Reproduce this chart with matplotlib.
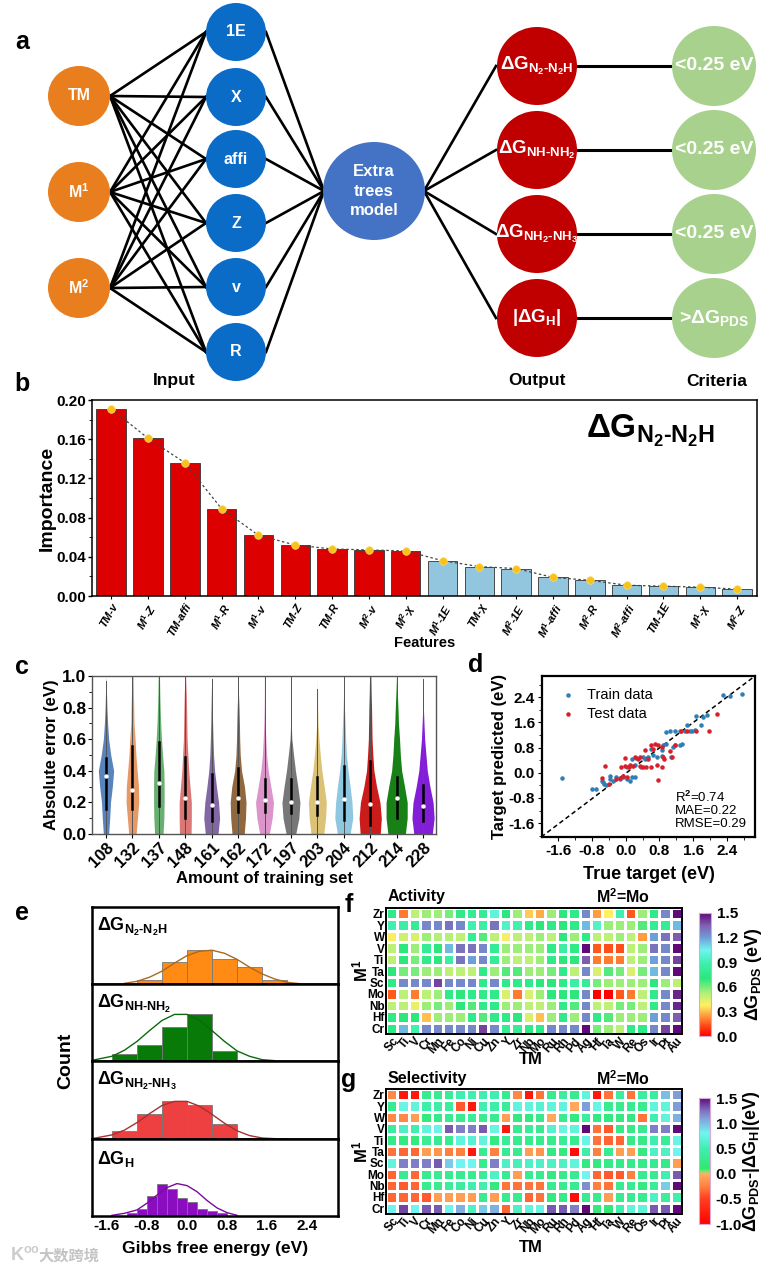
import matplotlib
matplotlib.use("Agg")
import matplotlib.pyplot as plt
import numpy as np
from matplotlib.colors import LinearSegmentedColormap, Normalize
from matplotlib.patches import Ellipse
from matplotlib.ticker import AutoMinorLocator

plt.rcParams['font.family'] = ['Liberation Sans', 'DejaVu Sans']
plt.rcParams['font.weight'] = 'bold'
plt.rcParams['axes.labelweight'] = 'bold'
plt.rcParams['mathtext.fontset'] = 'custom'
plt.rcParams['mathtext.rm'] = 'Liberation Sans:bold'
plt.rcParams['mathtext.it'] = 'Liberation Sans:bold'
plt.rcParams['mathtext.bf'] = 'Liberation Sans:bold'
plt.rcParams['mathtext.default'] = 'rm'

W, H = 769, 1271

# panel a
input_nodes = ['TM', 'M$^{1}$', 'M$^{2}$']
feature_nodes = ['1E', 'X', 'affi', 'Z', 'v', 'R']
output_nodes = ['ΔG$_{N_{2}\\text{-}N_{2}H}$', 'ΔG$_{NH\\text{-}NH_{2}}$',
                'ΔG$_{NH_{2}\\text{-}NH_{3}}$', '|ΔG$_{H}$|']
criteria_nodes = ['<0.25 eV', '<0.25 eV', '<0.25 eV', '>ΔG$_{PDS}$']

# panel b
feature_names = ['TM-v', 'M$^{1}$-Z', 'TM-affi', 'M$^{1}$-R', 'M$^{1}$-v', 'TM-Z', 'TM-R', 'M$^{2}$-v',
                 'M$^{2}$-χ', 'M$^{1}$-1E', 'TM-χ', 'M$^{2}$-1E', 'M$^{1}$-affi', 'M$^{2}$-R',
                 'M$^{2}$-affi', 'TM-1E', 'M$^{1}$-χ', 'M$^{2}$-Z']
importance = [.191, .161, .136, .089, .062, .052, .048, .047, .046,
              .036, .030, .028, .019, .016, .011, .010, .009, .007]
n_red = 9

# panel c
train_sizes = ['108', '132', '137', '148', '161', '162', '172', '197', '203', '204', '212', '214', '228']
violin_levels = [0, .1, .2, .3, .4, .5, .6, .7, .8, .9, 1.0]
violin_widths = [
    [.10, .14, .17, .24, .29, .18, .10, .06, .035, .018, 0],
    [.14, .19, .24, .23, .18, .13, .10, .06, .05, .035, .025],
    [.16, .19, .20, .20, .19, .14, .10, .07, .05, .035, .025],
    [.22, .23, .23, .18, .13, .10, .07, .06, .05, .035, .012],
    [.24, .30, .26, .18, .11, .07, .05, .035, .025, .012, 0],
    [.23, .28, .30, .24, .13, .08, .06, .05, .035, .012, .006],
    [.18, .29, .34, .24, .14, .08, .05, .025, .012, .006, .006],
    [.18, .30, .34, .26, .17, .10, .035, .012, .006, .006, .006],
    [.24, .31, .34, .26, .17, .11, .06, .025, .012, .006, 0],
    [.24, .34, .31, .24, .16, .10, .07, .05, .025, .006, .006],
    [.38, .42, .37, .24, .14, .10, .07, .06, .05, .035, .025],
    [.33, .40, .40, .30, .19, .14, .11, .07, .05, .025, .006],
    [.35, .42, .38, .26, .16, .11, .06, .035, .012, .006, 0],
]
violin_medians = [.37, .28, .32, .225, .185, .23, .215, .205, .20, .22, .19, .23, .18]
violin_q1 = [.16, .16, .18, .10, .08, .14, .14, .13, .12, .09, .06, .10, .08]
violin_q3 = [.48, .56, .58, .49, .38, .42, .35, .35, .36, .43, .46, .36, .31]
violin_top = [.97, 1, 1, 1, .98, 1, 1, 1, .92, 1, 1, 1, .98]
violin_colors = ['#4f7cb8', '#e5935f', '#62ab6a', '#d97070', '#7b5f9e', '#8a6036', '#d98fc8',
                 '#707070', '#d9bf70', '#88c4de', '#c90f0f', '#0a7a0a', '#7b12d6']

# panel d
train_x = [-1.50, -.79, -.71, -.57, -.52, -.46, -.36, -.30, -.22, -.14, -.06, .02, .10, .14, .21, .02, .14, .25,
           .21, .37, .45, .53, .61, .73, .85, .89, .96, 1.12, .85, 1.08, 1.16, .95, 1.04, 1.16, 1.28, 1.40, 1.52,
           1.63, 1.34, 1.28, 1.44, 1.56, 1.66, 1.78, 1.83, 1.93, 2.31, 2.48, 2.75, -.38, -.53, .41, .65]
train_y = [-.17, -.52, -.52, -.27, -.35, -.40, -.19, -.25, -.12, -.19, -.14, -.19, -.25, -.14, -.12, .18, .44, .47,
           .23, .18, .44, .50, .76, .50, .71, .87, .90, .81, .52, .50, .87, 1.29, 1.31, 1.31, 1.31, 1.34, 1.34,
           1.36, .92, .87, 1.50, 1.34, 1.79, 1.53, 1.77, 1.82, 2.47, 2.45, 2.50, -.09, -.30, .50, .55]
test_x = [-.57, -.48, -.39, -.22, -.14, -.06, -.01, -.12, -.02, .08, .18, .33, .41, .49, .21, .33, .45, .61, .73,
          .77, .85, .90, .61, .69, .77, .85, .89, 1.04, 1.09, 1.16, 1.32, 1.45, 1.66, 1.96, 2.15, .02, .10, .29,
          .65, .53]
test_y = [-.16, .20, -.35, -.19, -.16, -.09, .46, .18, .20, .18, .20, .20, .18, .18, .50, .50, .71, .18, .23,
          -.22, .18, .44, .87, .92, .89, .81, .50, .69, .50, .87, 1.31, 1.31, 1.31, 1.34, 1.85, -.14, .23, .44,
          .76, .44]

# panel e
hist_titles = ['ΔG$_{N_{2}\\text{-}N_{2}H}$', 'ΔG$_{NH\\text{-}NH_{2}}$', 'ΔG$_{NH_{2}\\text{-}NH_{3}}$', 'ΔG$_{H}$']
hist_edges = [
    [-1, -.5, 0, .5, 1, 1.5, 2],
    [-1.5, -1, -.5, 0, .5, 1],
    [-1.5, -1, -.5, 0, .5, 1, 1.5, 2],
    [-1.2, -1, -.8, -.6, -.4, -.2, 0, .2, .4, .6, .8],
]
hist_counts = [
    [12, 65, 100, 75, 50, 12],
    [22, 47, 102, 138, 30],
    [22, 72, 110, 100, 44, 4, 2],
    [8, 22, 58, 96, 80, 52, 40, 22, 14, 8],
]
curve_x = [
    [-1.25, -1, -.75, -.5, -.25, 0, .25, .5, .75, 1, 1.25, 1.5, 1.75, 2, 2.25],
    [-1.9, -1.5, -1.25, -1, -.75, -.5, -.25, 0, .25, .5, .75, 1, 1.25, 1.5, 1.75],
    [-1.9, -1.5, -1.25, -1, -.75, -.5, -.25, 0, .25, .5, .75, 1, 1.25, 1.5, 1.75],
    [-1.5, -1.25, -1, -.8, -.6, -.4, -.2, 0, .2, .4, .6, .8, 1],
]
curve_y = [
    [2, 8, 20, 38, 62, 84, 97, 100, 91, 73, 50, 30, 15, 5, 1],
    [2, 14, 32, 58, 90, 120, 138, 138, 120, 90, 58, 30, 14, 4, 1],
    [1, 12, 26, 48, 74, 98, 110, 110, 96, 72, 46, 24, 10, 3, 1],
    [2, 8, 18, 38, 62, 84, 96, 90, 72, 46, 24, 10, 2],
]
hist_colors = ['#ff8a14', '#087a08', '#ee4040', '#8a0ec0']
curve_colors = ['#a86a20', '#0c6a0c', '#a83030', '#7a0a9e']
gibbs_ticks = [-1.6, -.8, 0, .8, 1.6, 2.4]

# panels f, g
tm_names = ['Sc', 'Ti', 'V', 'Cr', 'Mn', 'Fe', 'Co', 'Ni', 'Cu', 'Zn', 'Y', 'Zr', 'Nb', 'Mo', 'Ru', 'Rh', 'Pd',
            'Ag', 'Hf', 'Ta', 'W', 'Re', 'Os', 'Ir', 'Pt', 'Au']
m1_names = ['Zr', 'Y', 'W', 'V', 'Ti', 'Ta', 'Sc', 'Mo', 'Nb', 'Hf', 'Cr']
activity = [
    [.75, .2, .5, .55, .55, .6, .75, .8, .8, 1.0, .7, .55, .32, .27, .55, .7, .75, 1.25, .25, .38, .9, .15, .55, .75, 1.25, 1.5],
    [.9, .85, .8, 1.25, 1.25, 1.3, 1.25, .9, .85, 1.3, .95, .9, .75, .7, .75, .7, .75, 1.15, .95, .55, .55, .55, .65, .8, .8, 1.15],
    [.37, .47, .45, .55, .52, .52, .5, .8, .65, .5, .4, .5, .5, .55, .5, .7, .55, .75, .5, .5, .55, .5, .25, 1.2, 1.3, 1.35],
    [.5, .7, .55, .8, .7, 1.15, 1.3, 1.3, 1.25, .8, .55, .55, .55, .55, .75, .85, .75, 1.5, .15, .13, .13, .5, .55, 1.3, 1.25, 1.5],
    [.5, .7, .6, .75, .7, .85, 1.3, 1.2, 1.25, .8, .55, .5, .5, .55, .75, .7, .7, 1.35, .2, .2, .2, .5, .55, 1.2, 1.25, 1.4],
    [.7, .6, .6, .55, .55, .5, .5, .5, .75, .55, .65, .65, .55, .55, .6, .75, .5, 1.25, .45, .65, .6, .45, .6, 1.15, 1.25, 1.5],
    [.75, 1.25, 1.25, 1.25, 1.4, 1.25, 1.25, 1.25, .75, 1.25, .75, .75, .75, .7, .7, .75, .85, .8, .6, .55, .55, .55, .55, .7, .55, .5],
    [.15, .5, .2, .5, .55, .75, .7, .75, .75, .75, .45, .2, .45, .55, .7, .7, .7, 1.25, 0, 0, .15, .2, .5, .75, 1.25, 1.45],
    [.5, .5, .42, .55, .6, .55, .7, .65, .75, .75, .55, .55, .5, .5, .55, .75, .65, 1.25, .5, .5, .6, .6, .5, .75, 1.25, 1.45],
    [.75, .7, .7, .3, .55, .55, .55, .75, .65, .75, .75, .7, .45, .3, .55, .75, .55, 1.25, .75, .65, .55, .55, .55, 1.2, 1.25, 1.35],
    [.75, 1.15, .9, 1.25, 1.25, 1.25, 1.25, 1.25, 1.4, 1.25, .8, .8, .75, .75, 1.25, 1.25, 1.25, 1.5, .6, .55, .5, .75, .75, 1.25, 1.4, 1.5],
]
selectivity = [
    [-.2, -.8, -.8, .3, .3, .35, .5, .5, .5, .5, .3, -.2, -.8, -.3, .3, .4, .3, .7, -.8, -.3, .4, -.3, .4, .4, 1.0, 1.1],
    [.3, .75, .7, .45, .45, .4, -.4, -.8, .5, .45, .35, .7, .7, .65, .7, .7, -.05, 1.1, .75, .3, .3, .3, .3, .7, .7, 1.1],
    [-.2, -.2, -.1, .2, .25, .3, .3, .35, .3, .3, -.1, .2, .2, .25, -.05, .3, .2, .4, .2, .2, .2, .2, -.3, .5, .7, 1.05],
    [.4, .6, .5, .7, .75, 1.3, 1.2, 1.2, 1.3, .75, -.8, .3, .35, .3, .65, .75, .7, 1.5, -.3, -.4, .25, .25, .3, 1.2, 1.2, 1.5],
    [.25, .2, .2, .35, .3, .3, .7, .65, .7, .2, .35, .3, .3, .3, .3, .35, .3, .75, -.3, -.35, -.35, .25, .25, .5, .35, .75],
    [-.3, -.35, -.35, -.1, -.15, -.25, -.25, -.8, .3, -.25, .3, .3, -.1, -.15, .2, .2, -.9, .45, -.25, .3, -.1, -.1, .2, .6, .6, .8],
    [.7, 1.2, 1.2, 1.2, 1.3, .95, .8, .8, .3, 1.2, .6, .55, .6, .6, .6, .6, .7, .2, .2, .25, .25, .25, .25, .3, .25, -.1],
    [-.35, .3, -.35, .3, .3, .3, .3, .3, .35, .6, .3, -.1, .3, .3, .2, .25, .3, .8, -.35, -.4, -.4, -.25, .3, .3, .5, 1.3],
    [-.35, -.4, -.35, .3, .3, .4, .4, .5, .5, .2, -.3, -.3, -.3, -.3, .3, .3, .3, 1.15, -.25, -.3, .3, .3, .2, .35, .95, 1.5],
    [-.35, -.35, -.35, -.4, -.1, -.1, -.1, -.1, .3, -.1, .3, .3, -.35, -.3, .2, .25, -.9, .3, .3, -.1, .3, .3, .3, .6, .4, .5],
    [.8, 1.35, .8, 1.3, 1.3, .8, 1.05, .6, .95, 1.05, -.35, .6, .7, .75, 1.3, 1.3, 1.2, 1.5, .2, .15, .5, .7, .7, 1.3, 1.3, 1.5],
]

fig = plt.figure(figsize=(W / 100, H / 100), dpi=100)


def px_axes(left, top, right, bottom):
    return fig.add_axes([left / W, 1 - bottom / H, (right - left) / W, (bottom - top) / H])


def set_frame(ax, lw):
    for s in ax.spines.values():
        s.set_linewidth(lw)


# whole figure overlay, pixel units, for the diagram and panel letters
bg = px_axes(0, 0, W, H)
bg.set_xlim(0, W)
bg.set_ylim(H, 0)
bg.axis('off')

in_y = [96, 192, 288]
feat_y = [32, 97, 159, 223, 287, 352]
out_y = [66, 150, 234, 318]
for y0 in in_y:
    for y1 in feat_y:
        bg.plot([110, 206], [y0, y1], color='k', lw=1.9, zorder=1)
for y1 in feat_y:
    bg.plot([266, 324], [y1, 191], color='k', lw=1.9, zorder=1)
for y1 in out_y:
    bg.plot([424, 496], [191, y1], color='k', lw=1.9, zorder=1)
    bg.plot([578, 672], [y1, y1], color='k', lw=2.2, zorder=1)


def node(x, y, rx, ry, color, label, size, spacing=1.2):
    bg.add_patch(Ellipse((x, y), 2 * rx, 2 * ry, fc=color, ec='none', zorder=2))
    bg.text(x, y, label, color='white', fontsize=size, ha='center', va='center', zorder=3, linespacing=spacing)


for y, lab in zip(in_y, input_nodes):
    node(79, y, 31, 30, '#e87e1e', lab, 11.5)
for y, lab in zip(feat_y, feature_nodes):
    node(236, y, 30, 29, '#0b6cc8', lab, 11.5)
node(374, 191, 51, 49, '#4472c4', 'Extra\ntrees\nmodel', 12, 1.4)
for y, lab in zip(out_y, output_nodes):
    node(537, y, 40, 39, '#c00000', lab, 13.5)
for y, lab in zip(out_y, criteria_nodes):
    node(714, y, 42, 40, '#a9d18e', lab, 14)
for x, lab in [(174, 'Input'), (537, 'Output'), (717, 'Criteria')]:
    bg.text(x, 381, lab, fontsize=12.5, ha='center', va='center')

for x, y, lab in [(22, 42, 'a'), (22, 384, 'b'), (22, 667, 'c'), (476, 665, 'd'),
                  (22, 913, 'e'), (349, 905, 'f'), (349, 1080, 'g')]:
    bg.text(x, y, lab, fontsize=18, ha='center', va='center')

# watermark
bg.text(10, 1255, 'K$^{oo}$', fontsize=13, color='#cccccc', va='center', ha='left')
bg.text(38, 1256, '大数跨境', fontsize=11, color='#c4c4c4', va='center', ha='left',
        family=['Noto Sans CJK SC', 'DejaVu Sans'])

# b
ax = px_axes(92, 400, 757, 596)
xb = np.arange(len(importance))
bar_cols = ['#dc0000'] * n_red + ['#92c5de'] * (len(importance) - n_red)
ax.bar(xb, importance, width=.8, color=bar_cols, edgecolor='#333333', linewidth=.6)
ax.plot(xb, importance, color='#444444', lw=.9, ls=(0, (2, 2)))
ax.plot(xb, importance, ls='none', marker='o', ms=5.5, color='#f9c11c', mec='#f7dd70', mew=.5)
ax.set_xlim(-.52, 17.54)
ax.set_ylim(0, .2)
ax.set_yticks([0, .04, .08, .12, .16, .2])
ax.set_yticklabels(['0.00', '0.04', '0.08', '0.12', '0.16', '0.20'], fontsize=11)
ax.yaxis.set_minor_locator(AutoMinorLocator(2))
ax.set_xticks(xb)
ax.set_xticklabels(feature_names, rotation=60, fontsize=8, style='italic', ha='right', rotation_mode='anchor')
ax.tick_params(axis='x', pad=2, length=2)
ax.tick_params(axis='y', length=3, width=1, pad=1)
ax.set_ylabel('Importance', fontsize=14, labelpad=1)
ax.set_xlabel('Features', fontsize=10.5, labelpad=-3)
ax.text(.84, .84, 'ΔG$_{N_{2}\\text{-}N_{2}H}$', transform=ax.transAxes, fontsize=24, ha='center', va='center')
set_frame(ax, 1.1)

# c
ax = px_axes(92, 676, 436, 834)
for i, wd in enumerate(violin_widths):
    xc = i + 1
    ax.fill_betweenx(violin_levels, xc - np.array(wd), xc + np.array(wd), color=violin_colors[i], lw=0, alpha=.95)
    ax.plot([xc, xc], [0, violin_top[i]], color='#555555', lw=.7)
    ax.plot([xc, xc], [violin_q1[i], violin_q3[i]], color='k', lw=1.8)
    ax.plot(xc, violin_medians[i], marker='o', ms=2.2, color='white')
ax.set_xlim(.47, 13.49)
ax.set_ylim(0, 1)
ax.set_xticks(range(1, 14))
ax.set_xticklabels(train_sizes, rotation=45, fontsize=12, ha='right', rotation_mode='anchor')
ax.set_yticks([0, .2, .4, .6, .8, 1])
ax.set_yticklabels(['0.0', '0.2', '0.4', '0.6', '0.8', '1.0'], fontsize=12.5)
ax.yaxis.set_minor_locator(AutoMinorLocator(2))
ax.tick_params(axis='both', length=3, pad=1)
ax.set_ylabel('Absolute error (eV)', fontsize=12, labelpad=2)
ax.set_xlabel('Amount of training set', fontsize=12, labelpad=1)
set_frame(ax, 1)
for s in ax.spines.values():
    s.set_color('#555555')

# d
ax = px_axes(542, 676, 755, 837)
ax.plot([-2, 3.06], [-2.04, 3.07], color='k', lw=1.1, ls=(0, (3, 2)), zorder=1)
ax.scatter(train_x, train_y, s=5, color='#2f7fb5', label='Train data', zorder=2)
ax.scatter(test_x, test_y, s=5, color='#d8202c', label='Test data', zorder=3)
ax.set_xlim(-1.98, 3.06)
ax.set_ylim(-2.04, 3.07)
ticks_d = [-1.6, -.8, 0, .8, 1.6, 2.4]
ax.set_xticks(ticks_d)
ax.set_yticks(ticks_d)
ax.set_xticklabels(['-1.6', '-0.8', '0.0', '0.8', '1.6', '2.4'], fontsize=11)
ax.set_yticklabels(['-1.6', '-0.8', '0.0', '0.8', '1.6', '2.4'], fontsize=11)
ax.xaxis.set_minor_locator(AutoMinorLocator(2))
ax.yaxis.set_minor_locator(AutoMinorLocator(2))
ax.tick_params(axis='both', length=3, pad=2)
ax.set_xlabel('True target (eV)', fontsize=13, labelpad=6)
ax.set_ylabel('Target predicted (eV)', fontsize=12, labelpad=1)
ax.legend(loc='upper left', frameon=False, handletextpad=.3, labelspacing=.35,
          bbox_to_anchor=(-.01, 1.01), prop={'weight': 'normal', 'size': 10.5})
ax.text(.625, .045, 'R$^{2}$=0.74\nMAE=0.22\nRMSE=0.29', transform=ax.transAxes, fontsize=9.5, fontweight='normal',
        va='bottom', linespacing=1.05)
set_frame(ax, 1.6)

# e
tops = [907, 984, 1061, 1139, 1216]
for i in range(4):
    ax = px_axes(92, tops[i], 338, tops[i + 1])
    ed = np.array(hist_edges[i])
    ax.bar(ed[:-1], hist_counts[i], width=np.diff(ed), align='edge', color=hist_colors[i],
           edgecolor='#777777', linewidth=.6)
    ax.plot(curve_x[i], curve_y[i], color=curve_colors[i], lw=1)
    ax.set_xlim(-1.9, 3.02)
    ax.set_ylim(0, 228)
    ax.set_yticks([])
    ax.text(.02, .74, hist_titles[i], transform=ax.transAxes, fontsize=13, ha='left', va='center')
    if i < 3:
        ax.set_xticks([])
    else:
        ax.set_xticks(gibbs_ticks)
        ax.set_xticklabels(['-1.6', '-0.8', '0.0', '0.8', '1.6', '2.4'], fontsize=11)
        ax.tick_params(axis='x', length=0, pad=2)
        ax.set_xlabel('Gibbs free energy (eV)', fontsize=12.5, labelpad=6)
    set_frame(ax, 1.8)
bg.text(66, 1061, 'Count', fontsize=14, rotation=90, ha='center', va='center')

# f, g
cmap_f = LinearSegmentedColormap.from_list('act', [
    (0, '#ff0000'), (.1, '#ff5a1e'), (.2, '#ffc050'), (.25, '#fff060'), (.34, '#b8f078'), (.47, '#28e87c'),
    (.6, '#40f0b0'), (.7, '#70f5f0'), (.8, '#6f9fd8'), (.9, '#7f5fb0'), (1, '#5f0a78')])
cmap_g = LinearSegmentedColormap.from_list('sel', [
    (0, '#ff0000'), (.2, '#ff4020'), (.3, '#ff8040'), (.4, '#ffb060'), (.42, '#60f070'), (.44, '#30e870'),
    (.6, '#40eeb0'), (.72, '#70f5f0'), (.82, '#7fb0e0'), (.9, '#7f70c0'), (1, '#5f0a78')])


def heat_panel(values, cmap, norm, box, cbox, cticks, clabels, clabel, title, label_y, tm_y):
    ax = px_axes(*box)
    xe = np.arange(len(tm_names) + 1)
    ye = np.arange(len(m1_names) + 1)
    mesh = ax.pcolormesh(xe, ye, np.array(values), cmap=cmap, norm=norm, edgecolors='white', linewidth=1)
    ax.invert_yaxis()
    ax.set_xticks(xe[:-1] + .5)
    ax.set_xticklabels(tm_names, rotation=50, fontsize=8.5, ha='right', rotation_mode='anchor')
    ax.set_yticks(ye[:-1] + .5)
    ax.set_yticklabels(m1_names, fontsize=8.5)
    ax.tick_params(axis='both', length=0, pad=1)
    set_frame(ax, 1.4)
    bg.text(388, label_y, title, fontsize=11.5, ha='left', va='center')
    bg.text(623, label_y + 1, 'M$^{2}$=Mo', fontsize=11.5, ha='center', va='center')
    bg.text(531, tm_y, 'TM', fontsize=12, ha='center', va='center')
    bg.text(360, (box[1] + box[3]) / 2, 'M$^{1}$', fontsize=12, rotation=90, ha='center', va='center')
    cax = px_axes(*cbox)
    cb = fig.colorbar(mesh, cax=cax)
    cb.set_ticks(cticks)
    cb.set_ticklabels(clabels, fontsize=11)
    cb.ax.tick_params(length=0, pad=4)
    cb.outline.set_edgecolor('#d8a8d8')
    bg.text(cbox[2] + 42, (cbox[1] + cbox[3]) / 2, clabel, fontsize=13, rotation=90, ha='center', va='center')


heat_panel(activity, cmap_f, Normalize(0, 1.5), (386, 908, 682, 1034), (699, 913, 711, 1036),
           [0, .3, .6, .9, 1.2, 1.5], ['0.0', '0.3', '0.6', '0.9', '1.2', '1.5'],
           'ΔG$_{PDS}$ (eV)', 'Activity', 896, 1060)
heat_panel(selectivity, cmap_g, Normalize(-1, 1.5), (386, 1089, 682, 1214), (699, 1098, 710, 1224),
           [-1, -.5, 0, .5, 1, 1.5], ['-1.0', '-0.5', '0.0', '0.5', '1.0', '1.5'],
           'ΔG$_{PDS}$-|ΔG$_{H}$|(eV)', 'Selectivity', 1078, 1248)

plt.savefig('out.png', dpi=100)
